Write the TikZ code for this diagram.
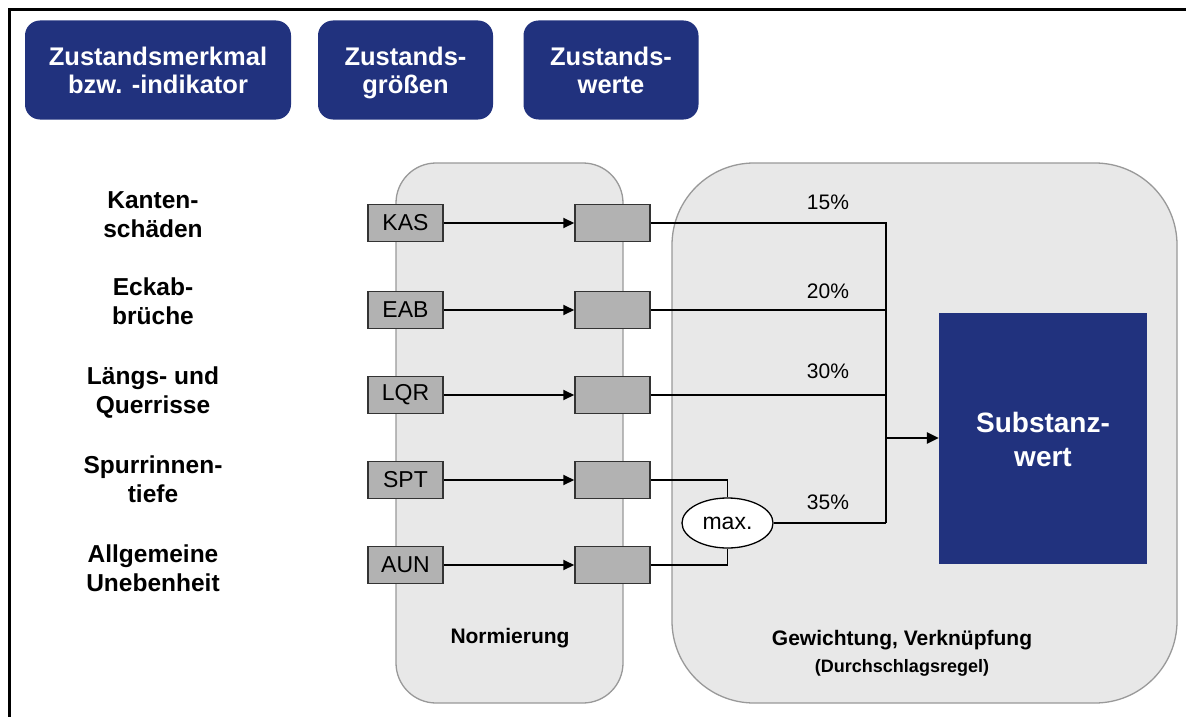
\documentclass[tikz,border=0pt]{standalone}
\usepackage{fontspec}
\setmainfont{Liberation Sans}
\usetikzlibrary{arrows.meta,shapes.geometric}
\definecolor{navy}{RGB}{33,50,126}
\definecolor{panelfill}{RGB}{232,232,232}
\definecolor{panelline}{RGB}{153,153,153}
\definecolor{boxfill}{RGB}{178,178,178}
\definecolor{boxline}{RGB}{51,51,51}
\newcommand{\nodepth}[1]{\raisebox{0pt}[\height][0pt]{#1}}
\begin{document}
\begin{tikzpicture}[x=1pt,y=-1pt,
 header/.style={fill=navy, draw=none, rounded corners=15pt, text=white, font=\fontsize{25.5}{28}\selectfont\bfseries, align=center, inner sep=0pt, minimum height=99pt},
 panel/.style={fill=panelfill, draw=panelline, line width=1.3pt},
 lbl/.style={font=\fontsize{24.5}{29}\selectfont\bfseries, align=center},
 gbox/.style={fill=boxfill, draw=boxline, line width=1.5pt, minimum width=75pt, minimum height=37pt, inner sep=0pt, font=\fontsize{23}{27}\selectfont},
 arr/.style={line width=2pt, -{Triangle[length=11pt,width=10pt]}},
 con/.style={line width=2pt},
 thinline/.style={line width=1.2pt},
 pct/.style={font=\fontsize{21}{25}\selectfont},
 panellbl/.style={font=\fontsize{21}{25}\selectfont\bfseries},
]
\useasboundingbox (0,0) rectangle (1186,717);
\fill[white] (0,0) rectangle (1186,717);
% frame
\draw[line width=3pt] (1190,10) -- (9,10) -- (9,720);
% headers
\node[header, minimum width=266pt] (h1) at (158,70) {Zustandsmerkmal\\\nodepth{bzw. -indikator}};
\node[header, minimum width=175pt] (h2) at (405.5,70) {Zustands-\\\nodepth{größen}};
\node[header, minimum width=175pt] (h3) at (611,70) {Zustands-\\\nodepth{werte}};
% panels
\draw[panel, rounded corners=40pt] (396,163) rectangle (623,703);
\draw[panel, rounded corners=82pt] (672,163) rectangle (1177,703);
\node[panellbl] (nlbl) at (510,638) {Normierung};
\node[panellbl] (glbl) at (902,640) {Gewichtung, Verknüpfung};
\node[font=\fontsize{18}{21}\selectfont\bfseries] (dlbl) at (902,668) {(Durchschlagsregel)};
% left labels
\node[lbl] (t1) at (153,217.5) {\strut Kanten-\\\strut schäden};
\node[lbl] (t2) at (153,304.5) {\strut Eckab-\\\strut brüche};
\node[lbl] (t3) at (153,393.5) {\strut Längs- und\\\strut Querrisse};
\node[lbl] (t4) at (153,482.5) {\strut Spurrinnen-\\\strut tiefe};
\node[lbl] (t5) at (153,571.5) {\strut Allgemeine\\\strut Unebenheit};
% boxes
\node[gbox] (l1) at (405.5,223) {KAS};
\node[gbox] (l2) at (405.5,310) {EAB};
\node[gbox] (l3) at (405.5,395) {LQR};
\node[gbox] (l4) at (405.5,480) {SPT};
\node[gbox] (l5) at (405.5,565) {AUN};
\node[gbox] (r1) at (612.5,223) {};
\node[gbox] (r2) at (612.5,310) {};
\node[gbox] (r3) at (612.5,395) {};
\node[gbox] (r4) at (612.5,480) {};
\node[gbox] (r5) at (612.5,565) {};
\foreach \i in {1,...,5} \draw[arr] (l\i) -- (r\i);
% max
\node[ellipse, draw=black, fill=white, line width=1.3pt, minimum width=91pt, minimum height=50pt, inner sep=0pt, font=\fontsize{23}{27}\selectfont] (mx) at (727.5,523) {max.};
\draw[thinline] (r4.east) -| (mx.north);
\draw[thinline] (r5.east) -| (mx.south);
% substanzwert
\node[fill=navy, minimum width=208pt, minimum height=251pt, inner sep=0pt] (sw) at (1043,438.5) {};
\node[text=white, align=center, font=\fontsize{28}{34}\selectfont\bfseries] (swt) at (1043,443) {\strut Substanz-\\\strut wert};
% bus
\coordinate (busend) at (886,523);
\coordinate (busmid) at (886,438);
\draw[con] (r1.east) -| (busend);
\draw[con] (r2.east) -| (busend);
\draw[con] (r3.east) -| (busend);
\draw[con] (mx.east) -- (busend);
\draw[line width=2.5pt, -{Triangle[length=12pt,width=11pt]}] (busmid) -- (sw.west |- busmid);
% percentages
\node[pct] (p1) at (828,202) {15\%};
\node[pct] (p2) at (828,291) {20\%};
\node[pct] (p3) at (828,371) {30\%};
\node[pct] (p4) at (828,502) {35\%};
\end{tikzpicture}
\end{document}
